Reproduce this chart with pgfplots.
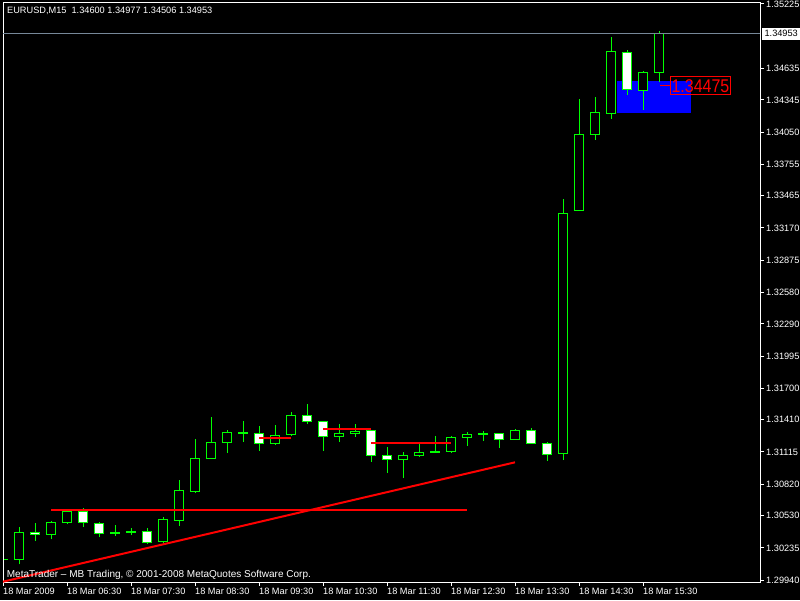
\documentclass[border=0pt]{standalone}
\usepackage{pgfplots}
\pgfplotsset{compat=1.18}
\usepackage{pgfplotstable}
\usepackage{graphicx}
\usepackage{fontspec}
\setmainfont{Liberation Sans}
\definecolor{mtgreen}{RGB}{0,255,0}
\definecolor{askline}{RGB}{119,136,153}
\newcommand\lbl{\fontsize{9.2}{10}\selectfont}
\pgfplotstableread{
k O H L C
0 1.30128 1.30252 1.30041 1.30133
1 1.30126 1.30424 1.30084 1.30378
2 1.30378 1.30460 1.30301 1.30359
3 1.30359 1.30484 1.30313 1.30472
4 1.30466 1.30582 1.30454 1.30570
5 1.30570 1.30601 1.30429 1.30466
6 1.30463 1.30472 1.30332 1.30368
7 1.30365 1.30442 1.30346 1.30374
8 1.30374 1.30414 1.30353 1.30383
9 1.30383 1.30414 1.30275 1.30286
10 1.30295 1.30518 1.30277 1.30497
11 1.30488 1.30858 1.30438 1.30766
12 1.30754 1.31231 1.30738 1.31057
13 1.31053 1.31436 1.31050 1.31203
14 1.31200 1.31316 1.31108 1.31289
15 1.31286 1.31399 1.31209 1.31295
16 1.31286 1.31350 1.31126 1.31194
17 1.31191 1.31362 1.31181 1.31268
18 1.31277 1.31479 1.31264 1.31451
19 1.31451 1.31555 1.31374 1.31396
20 1.31396 1.31403 1.31126 1.31258
21 1.31258 1.31371 1.31209 1.31286
22 1.31282 1.31371 1.31255 1.31307
23 1.31314 1.31316 1.31025 1.31084
24 1.31078 1.31163 1.30925 1.31044
25 1.31047 1.31114 1.30876 1.31087
26 1.31084 1.31197 1.31071 1.31112
27 1.31112 1.31261 1.31108 1.31121
28 1.31117 1.31264 1.31108 1.31252
29 1.31249 1.31298 1.31172 1.31277
30 1.31277 1.31307 1.31218 1.31286
31 1.31286 1.31289 1.31154 1.31231
32 1.31231 1.31325 1.31229 1.31314
33 1.31314 1.31332 1.31192 1.31194
34 1.31194 1.31203 1.31035 1.31093
35 1.31102 1.33436 1.31041 1.33304
36 1.33332 1.34353 1.33330 1.34029
37 1.34029 1.34372 1.33980 1.34231
38 1.34222 1.34922 1.34172 1.34791
39 1.34782 1.34803 1.34393 1.34442
40 1.34429 1.34610 1.34255 1.34598
41 1.34600 1.34977 1.34506 1.34953
}\candles
\pgfplotsset{
  mtbase/.style={
    at={(3pt,18pt)}, anchor=south west,
    width=757pt, height=579pt, scale only axis,
    xmin=0, xmax=47.3125,
  },
  hidden/.style={mtbase, axis lines=none, ticks=none},
}
\begin{document}
\begin{tikzpicture}
\fill[black] (0pt,0pt) rectangle (800pt,600pt);
\useasboundingbox (0pt,0pt) rectangle (800pt,600pt);
% layer 1: background objects and wicks
\begin{axis}[hidden, ymin=1.29922, ymax=1.35234]
\addplot[draw=none, fill=blue] coordinates {(38.36,1.34518) (42.98,1.34518) (42.98,1.34228) (38.36,1.34228)} -- cycle;
\addplot[draw=none, mark=none,
  error bars/.cd, y dir=plus, y explicit, error mark=none,
  error bar style={draw=mtgreen, line width=1pt}]
  table[x=k, y=L, y error plus expr={\thisrow{H}-\thisrow{L}}] {\candles};
\end{axis}
% layer 2: bodies (price - 1.29)
\begin{axis}[hidden, ymin=0.00922, ymax=0.06234, ybar stacked, bar width=9.4pt]
\addplot[draw=none, fill=none] table[x=k, y expr={min(\thisrow{O},\thisrow{C})-1.29}] {\candles};
\addplot[draw=mtgreen, fill=black, line width=1pt] table[x=k, y expr={max(\thisrow{C}-\thisrow{O},0)}] {\candles};
\addplot[draw=mtgreen, fill=white, line width=1pt] table[x=k, y expr={max(\thisrow{O}-\thisrow{C},0)}] {\candles};
\end{axis}
% layer 3: frame, ticks, objects
\begin{axis}[mtbase, ymin=1.29922, ymax=1.35234, clip=false,
  axis line style={white, line width=1pt},
  tick align=outside, major tick length=4pt,
  tick style={white, line width=1pt},
  xtick pos=bottom, ytick pos=right,
  yticklabel pos=right,
  xtick={0,4,8,12,16,20,24,28,32,36,40},
  xticklabels={18 Mar 2009,18 Mar 06:30,18 Mar 07:30,18 Mar 08:30,18 Mar 09:30,18 Mar 10:30,18 Mar 11:30,18 Mar 12:30,18 Mar 13:30,18 Mar 14:30,18 Mar 15:30},
  ytick={1.29940,1.30235,1.30530,1.30820,1.31115,1.31410,1.31700,1.31995,1.32290,1.32580,1.32875,1.33170,1.33465,1.33755,1.34050,1.34345,1.34635,1.35225},
  yticklabels={1.29940,1.30235,1.30530,1.30820,1.31115,1.31410,1.31700,1.31995,1.32290,1.32580,1.32875,1.33170,1.33465,1.33755,1.34050,1.34345,1.34635,1.35225},
  xticklabel style={text=white, font=\lbl, anchor=north west, inner sep=0pt, xshift=0pt},
  yticklabel style={text=white, font=\lbl, anchor=west, inner sep=0pt},
  xticklabel shift=2pt, yticklabel shift=2pt,
]
\addplot[askline, line width=1pt] coordinates {(0,1.34953) (47.3125,1.34953)};
\addplot[red, line width=2pt] coordinates {(3,1.30587) (29,1.30587)};
\addplot[red, line width=2pt] coordinates {(0,1.29925) (32,1.31020)};
\addplot[red, line width=2pt] coordinates {(16,1.31246) (18,1.31246)};
\addplot[red, line width=2pt] coordinates {(20,1.31328) (23,1.31328)};
\addplot[red, line width=2pt] coordinates {(23,1.31200) (28,1.31200)};
\addplot[red, line width=1pt] coordinates {(41.06,1.34475) (41.69,1.34475)};
\node[draw=red, line width=1pt, text=red, inner xsep=1pt, inner ysep=0pt, minimum height=18pt, anchor=west,
  font=\fontsize{16}{16}\selectfont] at (axis cs:41.69,1.34475) {\scalebox{1}[1.15]{1.34475}};
\node[fill=white, text=black, inner xsep=2.5pt, inner ysep=0pt, minimum height=12pt, anchor=west, font=\lbl]
  at (axis cs:47.43,1.34953) {1.34953};
\node[anchor=base west, inner sep=0pt, text=white, font=\lbl] at (rel axis cs:0.0053,0.981)
  {EURUSD,M15\ \ 1.34600 1.34977 1.34506 1.34953};
\node[anchor=base west, inner sep=0pt, text=white, font=\fontsize{10}{11}\selectfont] at (rel axis cs:0.0049,0.0076)
  {MetaTrader -- MB Trading, \textcopyright{} 2001-2008 MetaQuotes Software Corp.};
\end{axis}
\end{tikzpicture}
\end{document}
